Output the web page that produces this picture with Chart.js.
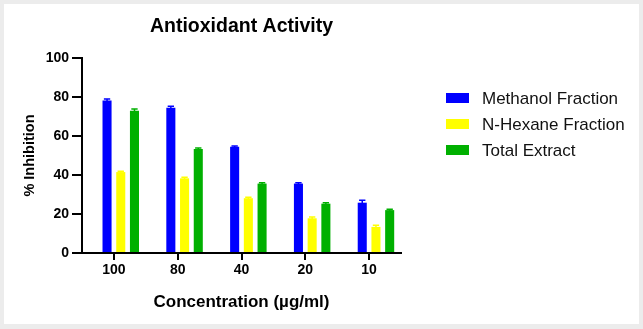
<!DOCTYPE html>
<html>
<head>
<meta charset="utf-8">
<script src="https://cdn.jsdelivr.net/npm/chart.js@4.4.1/dist/chart.umd.min.js"></script>
<style>
  html, body { margin: 0; padding: 0; background: #ececec; }
  #wrap { position: relative; width: 643px; height: 329px; }
  #panel { position: absolute; left: 4px; top: 4px; width: 635px; height: 320px; background: #ffffff; }
  #c { position: absolute; left: 0; top: 0; }
</style>
</head>
<body>
<div id="wrap">
  <div id="panel"></div>
  <canvas id="c" width="643" height="329"></canvas>
</div>
<script>
// ---- data ----
const categories = ['100', '80', '40', '20', '10'];
const seriesNames = ['Methanol Fraction', 'N-Hexane Fraction', 'Total Extract'];
const methanol = [78.2, 74.5, 54.5, 35.6, 25.8];
const hexane   = [41.5, 38.3, 28.1, 17.8, 13.4];
const total    = [73.0, 53.3, 35.6, 25.3, 22.0];
const methanolErr = [0.8, 0.8, 0.4, 0.4, 1.2];
const hexaneErr   = [0.4, 0.5, 0.5, 0.6, 0.8];
const totalErr    = [0.8, 0.5, 0.4, 0.5, 0.5];
const spacer      = [null, null, null, null, null]; // empty slot left of each group
const yTicks = [0, 20, 40, 60, 80, 100];
const colors = ['#0000ff', '#ffff00', '#00b000'];

const FONT = "'Liberation Sans', Arial, Helvetica, sans-serif";

const errorBars = {
  id: 'errorBars',
  afterDatasetsDraw(chart) {
    const ctx = chart.ctx;
    const y = chart.scales.y;
    chart.data.datasets.forEach((ds, i) => {
      if (!ds.errors) return;
      const meta = chart.getDatasetMeta(i);
      meta.data.forEach((bar, j) => {
        const v = ds.data[j], e = ds.errors[j];
        if (v == null) return;
        const yHi = y.getPixelForValue(v + e);
        const yLo = y.getPixelForValue(v - e);
        const half = bar.width * 0.35;
        ctx.save();
        ctx.strokeStyle = ds.backgroundColor;
        ctx.lineWidth = 1.5;
        ctx.beginPath();
        ctx.moveTo(bar.x, yLo); ctx.lineTo(bar.x, yHi);
        ctx.moveTo(bar.x - half, yHi); ctx.lineTo(bar.x + half, yHi);
        ctx.stroke();
        ctx.restore();
      });
    });
  }
};

const sideLegend = {
  id: 'sideLegend',
  afterDraw(chart) {
    const ctx = chart.ctx;
    ctx.save();
    chart.data.datasets.filter(ds => ds.label).forEach((ds, i) => {
      const cy = 98 + i * 26;
      ctx.fillStyle = ds.backgroundColor;
      ctx.fillRect(446, cy - 5, 23, 10);
      ctx.fillStyle = '#111';
      ctx.font = '17px ' + FONT;
      ctx.textBaseline = 'middle';
      ctx.textAlign = 'left';
      ctx.fillText(ds.label, 482, cy + 1);
    });
    ctx.restore();
  }
};

new Chart(document.getElementById('c'), {
  type: 'bar',
  data: {
    labels: categories,
    datasets: [
      { label: '', data: spacer, backgroundColor: 'rgba(0,0,0,0)' },
      { label: seriesNames[0], data: methanol, errors: methanolErr, backgroundColor: colors[0] },
      { label: seriesNames[1], data: hexane, errors: hexaneErr, backgroundColor: colors[1] },
      { label: seriesNames[2], data: total, errors: totalErr, backgroundColor: colors[2] }
    ]
  },
  options: {
    responsive: false,
    animation: false,
    layout: { padding: { left: 0, right: 242, top: 0, bottom: 0 } },
    datasets: { bar: { categoryPercentage: 0.86, barPercentage: 0.66 } },
    plugins: {
      legend: { display: false },
      tooltip: { enabled: false },
      title: {
        display: true,
        fullSize: false,
        text: 'Antioxidant Activity',
        color: '#000',
        font: { family: FONT, size: 19.5, weight: 'bold', lineHeight: 1.2 },
        padding: { top: 15.3, bottom: 19.3 }
      }
    },
    scales: {
      x: {
        offset: true,
        afterFit(s) { s.height = 76; },
        grid: { display: true, drawOnChartArea: false, drawTicks: true, tickLength: 7, offset: false, color: '#000', lineWidth: 2 },
        border: { display: true, color: '#000', width: 2 },
        ticks: { color: '#000', padding: 2, font: { family: FONT, size: 14, weight: 'bold' } },
        title: {
          display: true,
          text: 'Concentration (µg/ml)',
          color: '#000',
          font: { family: FONT, size: 17, weight: 'bold', lineHeight: 1.2 },
          padding: { top: 0, bottom: 16 }
        }
      },
      y: {
        min: 0, max: 100,
        afterFit(s) { s.width = 82; },
        afterBuildTicks(s) { s.ticks = yTicks.map(v => ({ value: v })); },
        grid: { display: true, drawOnChartArea: false, drawTicks: true, tickLength: 10, color: '#000', lineWidth: 2 },
        border: { display: true, color: '#000', width: 2 },
        ticks: { color: '#000', padding: 3, font: { family: FONT, size: 14, weight: 'bold' } },
        title: {
          display: true,
          text: '% Inhibition',
          color: '#000',
          font: { family: FONT, size: 14.5, weight: 'bold', lineHeight: 1.2 },
          padding: { top: 21, bottom: 0 }
        }
      }
    }
  },
  plugins: [errorBars, sideLegend]
});
</script>
</body>
</html>
